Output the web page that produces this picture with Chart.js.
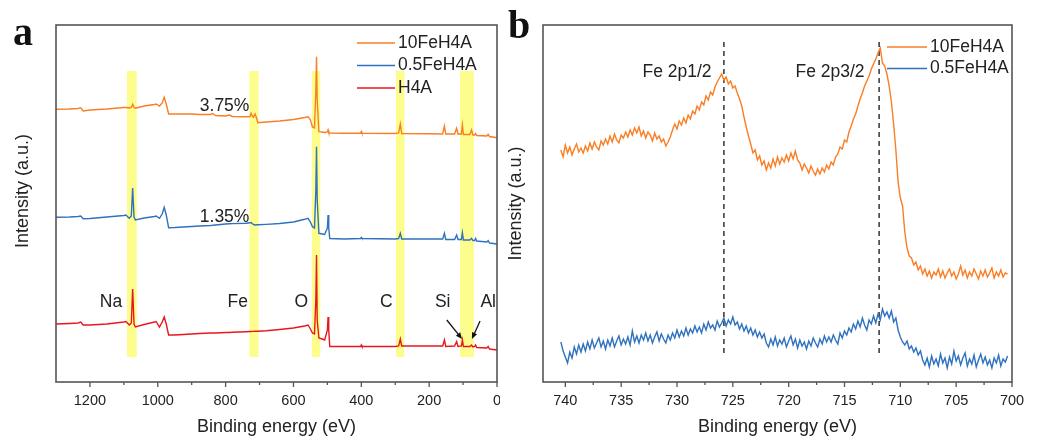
<!DOCTYPE html>
<html>
<head>
<meta charset="utf-8">
<script src="https://cdn.jsdelivr.net/npm/chart.js@4.4.0/dist/chart.umd.min.js"></script>
<style>
  html, body { margin: 0; padding: 0; background: #fff; }
  #wrap { position: relative; width: 1040px; height: 436px; }
  .panel { position: absolute; top: 0; height: 436px; }
  #panelA { left: 0; width: 500px; }
  #panelB { left: 500px; width: 540px; }
</style>
</head>
<body>
<div id="wrap">
  <div class="panel" id="panelA"><canvas id="chartA"></canvas></div>
  <div class="panel" id="panelB"><canvas id="chartB"></canvas></div>
</div>
<script>
// --- (a) survey spectra: binding energy (eV) and offset intensities (a.u.) ---
const surveyEnergy = [
  1300, 1260, 1235, 1227, 1220, 1200, 1150, 1100, 1094, 1084,
  1078, 1074, 1070, 1066, 1040, 1010, 1005, 995, 987, 981,
  975, 968, 950, 900, 877, 845, 838, 830, 800, 789,
  780, 740, 728, 725, 720, 718, 713, 708, 705, 680,
  641, 600, 567, 557, 550, 544, 538, 534, 532, 530,
  525, 515, 508, 500, 498, 496, 493, 450, 402, 400,
  398, 300, 290, 285, 281, 200, 160, 155, 151, 125,
  119, 115, 105, 102, 99, 80, 75, 71, 66, 63,
  60, 30, 26, 22, 0
];
const survey10Fe = [
  272.7, 273, 273.5, 274.3, 271, 272, 273, 274.5, 274.5, 274,
  274.5, 277.7, 274.5, 273.7, 276, 277.5, 278, 276, 279, 284.7,
  278, 268, 268, 268, 267.5, 267.5, 268.5, 266.5, 266, 267,
  265.5, 265.3, 265.5, 268.7, 265.5, 264.7, 268, 263, 259.3, 260,
  261, 262.5, 264.5, 265.3, 262, 255, 254, 292, 325.3, 282,
  250.3, 250, 249.5, 250, 252, 249.5, 249, 248.7, 248.7, 250.5,
  248.7, 248.5, 249, 258, 248.5, 248.2, 248, 256, 248, 248,
  253.7, 248, 248, 257, 247.5, 247.5, 252, 247, 247, 248.5,
  246.5, 246, 247.7, 245.5, 244.3
];
const survey05Fe = [
  164.7, 165, 165.5, 166, 163.3, 163.5, 165, 166.5, 167, 163.7,
  166, 194, 165, 162, 164, 165.5, 166, 163.7, 168, 174.7,
  167, 154.3, 154.5, 155.5, 156, 156.5, 156.7, 157, 158, 158.2,
  158.4, 158.7, 159.2, 159.5, 158, 157.5, 157, 157.2, 157.2, 157.6,
  158.5, 160, 162.7, 163.7, 160, 155.3, 154, 192, 235.3, 182,
  148.7, 148, 147.5, 154, 167, 154, 143.5, 143, 143.5, 144.5,
  143.5, 143, 143.5, 148.7, 143, 143, 143, 148.7, 142.5, 142.5,
  147, 142.5, 142.5, 149.3, 142, 142, 143.7, 141.5, 141.5, 143.5,
  141, 140, 141.3, 139, 138
];
const surveyH4A = [
  58, 58.5, 59, 60, 57, 57, 58, 60, 60.5, 57,
  59, 93, 58, 55, 57.5, 60, 60.5, 55, 60, 65,
  58, 47, 47, 48, 48.5, 49, 49, 49, 49.5, 49.5,
  49.7, 50.3, 50.5, 50.5, 50.6, 50.6, 50.7, 50.8, 50.8, 51.2,
  52.5, 54, 56, 57, 53, 49, 48, 82, 127, 62,
  44, 43, 42, 52, 65, 52, 35.5, 35.5, 35.5, 37,
  35.5, 35.5, 36, 43, 36, 36, 36, 42, 35.5, 36,
  40.5, 35.5, 36, 42, 35.5, 35.5, 37, 35, 35.5, 37,
  34.5, 34, 35.5, 33, 32
];
const surveyTicks = [0, 200, 400, 600, 800, 1000, 1200];
const surveyMinorTicks = [100, 300, 500, 700, 900, 1100];
// highlighted regions (eV): Na, Fe, O, C, Si/Al
const surveyBands = [[1091, 1062], [730, 703], [546, 521], [298, 273], [109, 68]];
const surveyPercent = [['3.75%', 803, 276], ['1.35%', 803, 165]];
const surveyElements = [['Na', 1138, 80], ['Fe', 764, 80], ['O', 577, 80], ['C', 326, 80], ['Si', 160, 80], ['Al', 26, 80]];
// arrows: [fromE, fromI, toE, toI]
const surveyArrows = [[148, 62, 103, 43], [50, 61, 74, 43]];

// --- (b) Fe 2p region ---
const fe2pEnergy = [
  740.4, 740.2, 740.0, 739.8, 739.6, 739.4, 739.2, 739.0, 738.8, 738.6,
  738.4, 738.2, 738.0, 737.8, 737.6, 737.4, 737.2, 737.0, 736.8, 736.6,
  736.4, 736.2, 736.0, 735.8, 735.6, 735.4, 735.2, 735.0, 734.8, 734.6,
  734.4, 734.2, 734.0, 733.8, 733.6, 733.4, 733.2, 733.0, 732.8, 732.6,
  732.4, 732.2, 732.0, 731.8, 731.6, 731.4, 731.2, 731.0, 730.8, 730.6,
  730.4, 730.2, 730.0, 729.8, 729.6, 729.4, 729.2, 729.0, 728.8, 728.6,
  728.4, 728.2, 728.0, 727.8, 727.6, 727.4, 727.2, 727.0, 726.8, 726.6,
  726.4, 726.2, 726.0, 725.8, 725.6, 725.4, 725.2, 725.0, 724.8, 724.6,
  724.4, 724.2, 724.0, 723.8, 723.6, 723.4, 723.2, 723.0, 722.8, 722.6,
  722.4, 722.2, 722.0, 721.8, 721.6, 721.4, 721.2, 721.0, 720.8, 720.6,
  720.4, 720.2, 720.0, 719.8, 719.6, 719.4, 719.2, 719.0, 718.8, 718.6,
  718.4, 718.2, 718.0, 717.8, 717.6, 717.4, 717.2, 717.0, 716.8, 716.6,
  716.4, 716.2, 716.0, 715.8, 715.6, 715.4, 715.2, 715.0, 714.8, 714.6,
  714.4, 714.2, 714.0, 713.8, 713.6, 713.4, 713.2, 713.0, 712.8, 712.6,
  712.4, 712.2, 712.0, 711.8, 711.6, 711.4, 711.2, 711.0, 710.8, 710.6,
  710.4, 710.2, 710.0, 709.8, 709.6, 709.4, 709.2, 709.0, 708.8, 708.6,
  708.4, 708.2, 708.0, 707.8, 707.6, 707.4, 707.2, 707.0, 706.8, 706.6,
  706.4, 706.2, 706.0, 705.8, 705.6, 705.4, 705.2, 705.0, 704.8, 704.6,
  704.4, 704.2, 704.0, 703.8, 703.6, 703.4, 703.2, 703.0, 702.8, 702.6,
  702.4, 702.2, 702.0, 701.8, 701.6, 701.4, 701.2, 701.0, 700.8, 700.6,
  700.4
];
const fe2p10Fe = [
  232, 225, 237, 229, 235, 227, 233, 238, 230, 234,
  229, 236, 231, 239, 233, 240, 235, 232, 241, 237,
  243, 238, 246, 240, 248, 242, 239, 247, 244, 250,
  245, 252, 247, 254, 249, 255, 246, 251, 244, 250,
  247, 241, 249, 243, 246, 240, 243, 236, 240, 245,
  252, 258, 253, 261, 257, 264, 259, 267, 263, 271,
  268, 276, 272, 280, 277, 286, 282, 290, 287, 295,
  300, 304, 308, 302, 305, 298, 301, 294, 296, 289,
  283, 276, 265, 255, 246, 238, 229, 232, 222, 226,
  217, 221, 212, 219, 214, 223, 216, 225, 218, 224,
  220, 227, 221, 229, 223, 231, 222, 219, 212, 218,
  214, 209, 216, 211, 207, 213, 208, 214, 210, 217,
  213, 220, 217, 225, 228, 235, 233, 242, 240, 250,
  256, 263, 268, 276, 283, 289, 296, 301, 306, 313,
  318, 323, 329, 334, 319, 316, 308, 296, 280, 258,
  232, 200, 184, 176, 150, 134, 126, 124, 117, 120,
  112, 116, 108, 113, 106, 111, 104, 110, 107, 113,
  105, 111, 104, 109, 113, 106, 110, 103, 108, 116,
  107, 112, 104, 110, 106, 113, 108, 103, 111, 106,
  112, 105, 109, 114, 104, 110, 106, 112, 105, 109,
  108
];
const fe2p05Fe = [
  40, 31, 25, 19, 30, 24, 35, 28, 37, 30,
  38, 31, 40, 33, 42, 34, 39, 44, 35, 41,
  33, 42, 36, 44, 35, 41, 46, 37, 43, 38,
  45, 37, 51, 40, 46, 39, 47, 42, 49, 41,
  47, 39, 45, 50, 41, 48, 43, 39, 47, 42,
  49, 44, 52, 45, 51, 46, 54, 47, 53, 49,
  56, 50, 55, 49, 58, 52, 60, 54, 57, 52,
  61, 55, 59, 64, 56, 62, 58, 65, 57, 60,
  53, 58, 51, 56, 49, 54, 47, 52, 45, 50,
  44, 48, 39, 35, 43, 37, 45, 36, 42, 38,
  44, 35, 41, 46, 37, 43, 34, 42, 36, 40,
  33, 41, 36, 44, 39, 35, 43, 38, 46, 40,
  45, 40, 47, 42, 38, 49, 44, 51, 47, 54,
  50, 58, 53, 61, 55, 64, 57, 52, 62, 58,
  66, 59, 68, 62, 73, 66, 70, 64, 71, 60,
  64, 52, 45, 40, 37, 41, 33, 36, 30, 34,
  27, 31, 22, 17, 24, 15, 26, 18, 23, 16,
  28, 19, 24, 14, 25, 18, 31, 21, 26, 17,
  24, 29, 16, 23, 18, 27, 15, 22, 28, 19,
  25, 17, 22, 14, 24, 19, 27, 16, 23, 20,
  26
];
const fe2pTicks = [700, 705, 710, 715, 720, 725, 730, 735, 740];
const fe2pMinorTicks = [702.5, 707.5, 712.5, 717.5, 722.5, 727.5, 732.5, 737.5];
const fe2pPeakLines = [725.8, 711.9];
const fe2pPeakLabels = [['Fe 2p1/2', 730.0, 310], ['Fe 2p3/2', 716.3, 310]];

const ORANGE = '#F97E24';
const BLUE = '#2F72BE';
const RED = '#E8171F';
const BAND = '#FDFD8E';
const AXIS = '#555555';
const TEXT = '#222222';
const FONT = '"Liberation Sans", Arial, sans-serif';

Chart.defaults.font.family = FONT;
Chart.defaults.color = TEXT;

const pts = (xs, ys) => xs.map((x, i) => ({ x: x, y: ys[i] }));

function series(label, xs, ys, color) {
    return {
        label: label, data: pts(xs, ys), borderColor: color, backgroundColor: color,
        borderWidth: 1.4, pointRadius: 0, tension: 0, fill: false
    };
}

function drawText(ctx, text, x, y, size, align, angle) {
    ctx.save();
    ctx.font = size + 'px ' + FONT;
    ctx.fillStyle = TEXT;
    ctx.textAlign = align || 'center';
    ctx.textBaseline = 'middle';
    ctx.translate(x, y);
    if (angle) ctx.rotate(angle);
    ctx.fillText(text, 0, 0);
    ctx.restore();
}

// frame round the plot and outward ticks on the x axis
function drawFrame(chart, major, minor) {
    const { ctx, chartArea: a, scales: { x } } = chart;
    ctx.save();
    ctx.strokeStyle = AXIS;
    ctx.lineWidth = 1.6;
    ctx.strokeRect(a.left, a.top, a.right - a.left, a.bottom - a.top);
    ctx.lineWidth = 1.3;
    ctx.beginPath();
    major.forEach(v => { const p = x.getPixelForValue(v); ctx.moveTo(p, a.bottom); ctx.lineTo(p, a.bottom + 5); });
    minor.forEach(v => { const p = x.getPixelForValue(v); ctx.moveTo(p, a.bottom); ctx.lineTo(p, a.bottom + 3); });
    ctx.stroke();
    ctx.restore();
}

function drawLegend(chart, x0, y0, lineLen, rowH) {
    const ctx = chart.ctx;
    chart.data.datasets.forEach((ds, i) => {
        const y = y0 + i * rowH;
        ctx.save();
        ctx.strokeStyle = ds.borderColor;
        ctx.lineWidth = 1.5;
        ctx.beginPath();
        ctx.moveTo(x0, y);
        ctx.lineTo(x0 + lineLen, y);
        ctx.stroke();
        ctx.restore();
        drawText(ctx, ds.label, x0 + lineLen + 3, y, 17.5, 'left');
    });
}

function drawPanelLetter(ctx, letter, x, y) {
    ctx.save();
    ctx.font = 'bold 40px "Liberation Serif", "Times New Roman", serif';
    ctx.fillStyle = '#111';
    ctx.textBaseline = 'alphabetic';
    ctx.fillText(letter, x, y);
    ctx.restore();
}

function drawArrow(ctx, x1, y1, x2, y2) {
    const ang = Math.atan2(y2 - y1, x2 - x1);
    const head = 7;
    ctx.save();
    ctx.strokeStyle = '#111';
    ctx.fillStyle = '#111';
    ctx.lineWidth = 1.3;
    ctx.beginPath();
    ctx.moveTo(x1, y1);
    ctx.lineTo(x2 - Math.cos(ang) * head * 0.8, y2 - Math.sin(ang) * head * 0.8);
    ctx.stroke();
    ctx.beginPath();
    ctx.moveTo(x2, y2);
    ctx.lineTo(x2 - head * Math.cos(ang - 0.4), y2 - head * Math.sin(ang - 0.4));
    ctx.lineTo(x2 - head * Math.cos(ang + 0.4), y2 - head * Math.sin(ang + 0.4));
    ctx.closePath();
    ctx.fill();
    ctx.restore();
}

function xAxis(min, max, tickValues, titleText) {
    return {
        type: 'linear', min: min, max: max, reverse: true,
        afterBuildTicks: s => { s.ticks = tickValues.map(v => ({ value: v })); },
        afterFit: s => { s.height = 54; },
        grid: { display: false, drawTicks: false },
        border: { display: false },
        ticks: { autoSkip: false, maxRotation: 0, padding: 10, color: TEXT, font: { size: 14.5 }, callback: v => String(v) },
        title: { display: true, text: titleText, color: TEXT, font: { size: 18 }, padding: { top: 0, bottom: -2 } }
    };
}

function yAxis(width, titlePad, showTitle) {
    return {
        min: 0, max: 357,
        afterFit: s => { s.width = width; },
        grid: { display: false, drawTicks: false },
        border: { display: false },
        ticks: { display: false },
        title: { display: showTitle, text: 'Intensity (a.u.)', color: TEXT, font: { size: 18 }, padding: { top: titlePad, bottom: 0 } }
    };
}

const baseOptions = {
    responsive: true,
    maintainAspectRatio: false,
    animation: false,
    plugins: { legend: { display: false }, tooltip: { enabled: false } }
};

// --- Painel (a) ---
new Chart(document.getElementById('chartA'), {
    type: 'line',
    data: {
        datasets: [
            series('10FeH4A', surveyEnergy, survey10Fe, ORANGE),
            series('0.5FeH4A', surveyEnergy, survey05Fe, BLUE),
            series('H4A', surveyEnergy, surveyH4A, RED)
        ]
    },
    options: {
        ...baseOptions,
        layout: { padding: { left: 0, right: 3, top: 25, bottom: 0 } },
        scales: { x: xAxis(0, 1300, surveyTicks, 'Binding energy (eV)'), y: yAxis(56, 12, false) }
    },
    plugins: [{
        id: 'surveyDecor',
        beforeDatasetsDraw(chart) {
            const { ctx, scales: { x, y } } = chart;
            ctx.save();
            ctx.fillStyle = BAND;
            surveyBands.forEach(([e1, e2]) => {
                const l = x.getPixelForValue(e1), r = x.getPixelForValue(e2);
                const t = y.getPixelForValue(311), b = y.getPixelForValue(25);
                ctx.fillRect(l, t, r - l, b - t);
            });
            ctx.restore();
        },
        afterDraw(chart) {
            const { ctx, scales: { x, y } } = chart;
            drawFrame(chart, surveyTicks, surveyMinorTicks);
            // y title sits a little above the middle in the original
            drawText(ctx, y.options.title.text, 23, 191, 18, 'center', -Math.PI / 2);
            surveyPercent.concat(surveyElements).forEach(([t, e, v]) => {
                drawText(ctx, t, x.getPixelForValue(e), y.getPixelForValue(v), 17.5);
            });
            surveyArrows.forEach(([e1, v1, e2, v2]) => {
                drawArrow(ctx, x.getPixelForValue(e1), y.getPixelForValue(v1), x.getPixelForValue(e2), y.getPixelForValue(v2));
            });
            drawLegend(chart, 357, 43, 38, 22.5);
            drawPanelLetter(ctx, 'a', 13, 45);
        }
    }]
});

// --- Painel (b) ---
new Chart(document.getElementById('chartB'), {
    type: 'line',
    data: {
        datasets: [
            series('10FeH4A', fe2pEnergy, fe2p10Fe, ORANGE),
            series('0.5FeH4A', fe2pEnergy, fe2p05Fe, BLUE)
        ]
    },
    options: {
        ...baseOptions,
        layout: { padding: { left: 0, right: 28, top: 25, bottom: 0 } },
        scales: { x: xAxis(700, 742, fe2pTicks, 'Binding energy (eV)'), y: yAxis(43, 5, true) }
    },
    plugins: [{
        id: 'fe2pDecor',
        beforeDatasetsDraw(chart) {
            const { ctx, scales: { x, y } } = chart;
            ctx.save();
            ctx.strokeStyle = '#333';
            ctx.lineWidth = 1.5;
            ctx.setLineDash([5, 4]);
            fe2pPeakLines.forEach(e => {
                const p = x.getPixelForValue(e);
                ctx.beginPath();
                ctx.moveTo(p, y.getPixelForValue(340));
                ctx.lineTo(p, y.getPixelForValue(27));
                ctx.stroke();
            });
            ctx.restore();
        },
        afterDraw(chart) {
            const { ctx, scales: { x, y } } = chart;
            drawFrame(chart, fe2pTicks, fe2pMinorTicks);
            fe2pPeakLabels.forEach(([t, e, v]) => {
                drawText(ctx, t, x.getPixelForValue(e), y.getPixelForValue(v), 17.5);
            });
            drawLegend(chart, 387, 47, 40, 21.5);
            drawPanelLetter(ctx, 'b', 8, 38);
        }
    }]
});
</script>
</body>
</html>
